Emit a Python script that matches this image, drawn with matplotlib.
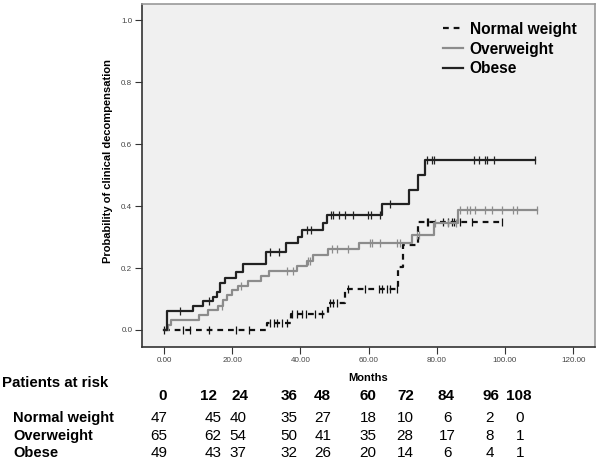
import numpy as np
import matplotlib
matplotlib.use("Agg")
import matplotlib.pyplot as plt

plt.rcParams['font.family'] = ['Liberation Sans', 'DejaVu Sans']

# Kaplan-Meier steps (months, cumulative probability)
normal_t = [0, 30.1, 37.2, 48.0, 53.1, 68.7, 70.0, 74.6]
normal_p = [0, 0.024, 0.052, 0.086, 0.131, 0.205, 0.275, 0.348]
normal_end = 99.0
normal_cens = [0, 5.5, 7.6, 13.3, 21.1, 25.0, 31.1, 32.3, 33.0, 34.5, 36.0, 37.6,
               38.9, 40.4, 41.5, 44.3, 46.2, 48.7, 49.6, 50.8, 54.0, 58.9, 63.1,
               63.8, 65.3, 66.3, 68.2, 77.0, 77.5, 81.9, 83.4, 84.4, 85.0, 86.8,
               90.2, 99.0]

over_t = [0, 1.3, 2.1, 10.4, 13.0, 15.9, 17.4, 18.4, 19.8, 21.8, 24.7, 28.4, 30.8,
          38.9, 41.8, 43.8, 48.2, 57.2, 72.6, 79.2, 86.1]
over_p = [0, 0.016, 0.032, 0.048, 0.065, 0.078, 0.097, 0.113, 0.129, 0.142, 0.159,
          0.174, 0.192, 0.207, 0.224, 0.242, 0.26, 0.282, 0.307, 0.345, 0.386]
over_end = 109.3
over_cens = [16.9, 22.5, 36.0, 37.9, 42.3, 42.8, 49.4, 50.7, 54.0, 60.4, 60.9, 63.3,
             68.2, 69.2, 74.1, 74.9, 79.5, 83.4, 85.6, 86.8, 88.8, 89.7, 91.2, 94.1,
             96.1, 99.0, 102.4, 103.4, 109.3]

obese_t = [0, 1.0, 8.6, 11.3, 14.5, 15.6, 16.4, 17.9, 21.1, 23.3, 29.8, 35.7, 39.4,
           40.5, 46.7, 47.7, 64.0, 71.9, 74.6, 76.5]
obese_p = [0, 0.062, 0.078, 0.094, 0.108, 0.124, 0.151, 0.167, 0.188, 0.212, 0.253,
           0.28, 0.30, 0.323, 0.345, 0.372, 0.406, 0.452, 0.50, 0.549]
obese_end = 108.8
obese_cens = [4.6, 13.2, 31.2, 33.7, 42.0, 43.0, 49.0, 49.6, 51.4, 53.1, 55.3, 59.9,
              60.6, 63.3, 66.2, 77.0, 78.5, 79.2, 90.9, 92.5, 94.1, 94.8, 96.8, 108.8]

groups = ['Normal weight', 'Overweight', 'Obese']
risk_times = [0, 12, 24, 36, 48, 60, 72, 84, 96, 108]
risk_normal = [47, 45, 40, 35, 27, 18, 10, 6, 2, 0]
risk_over = [65, 62, 54, 50, 41, 35, 28, 17, 8, 1]
risk_obese = [49, 43, 37, 32, 26, 20, 14, 6, 4, 1]

W, H = 600, 462
fig = plt.figure(figsize=(6, 4.62), dpi=100)
ax = fig.add_axes([142 / W, 1 - 347 / H, 453 / W, 343 / H])
ax.set_facecolor('#f0f0f0')


def km(t, p, end, cens, color, ls, label):
    x = np.append(t, end)
    y = np.append(p, p[-1])
    ax.step(x, y, where='post', color=color, lw=1.6, linestyle=ls, label=label)
    idx = np.searchsorted(t, cens, side='right') - 1
    ax.plot(cens, np.array(p)[idx], linestyle='none', marker='|', ms=6,
            mew=0.9, color=color)


km(normal_t, normal_p, normal_end, normal_cens, '#111111', (0, (2.6, 2.2)), groups[0])
km(over_t, over_p, over_end, over_cens, '#8c8c8c', '-', groups[1])
km(obese_t, obese_p, obese_end, obese_cens, '#222222', '-', groups[2])

ax.set_xlim(-6.45, 126.4)
ax.set_ylim(-0.055, 1.053)
ax.set_xticks(np.arange(0, 121, 20))
ax.set_xticklabels(['%.2f' % v for v in np.arange(0, 121, 20)])
ax.set_yticks(np.arange(0, 1.01, 0.2))
ax.set_yticklabels(['%.1f' % v for v in np.arange(0, 1.01, 0.2)])
ax.tick_params(labelsize=5.8, labelcolor='#444444', length=5, width=0.8,
               color='#333333', pad=2)
for s in ['left', 'bottom']:
    ax.spines[s].set_color('#333333')
    ax.spines[s].set_linewidth(1.2)
for s in ['top', 'right']:
    ax.spines[s].set_color('#999999')
    ax.spines[s].set_linewidth(1.2)

ax.set_ylabel('Probability of clinical decompensation', fontsize=8, fontweight='bold')
ax.yaxis.set_label_coords(-0.064, 0.542)
ax.set_xlabel('Months', fontsize=8, fontweight='bold', va='center')
ax.xaxis.set_label_coords(0.5, -0.09)

ax.legend(loc='upper left', bbox_to_anchor=(0.665, 0.948), frameon=False,
          prop={'size': 11.2, 'weight': 'bold'}, handlelength=1.25,
          handletextpad=0.45, labelspacing=0.3, borderpad=0, borderaxespad=0)

# patients at risk table
def fx(x):
    return x / W


def fy(y):
    return 1 - y / H


fig.text(fx(2), fy(383), 'Patients at risk', fontsize=10.8, fontweight='bold',
         ha='left', va='center')
head_x = [162.7, 208.4, 240.3, 289, 322.4, 368, 406, 445.6, 490.5, 519]
for x, t in zip(head_x, risk_times):
    fig.text(fx(x), fy(396), str(t), fontsize=11, fontweight='bold',
             ha='center', va='center')
col_x = [159, 213, 238, 289, 323, 368, 405, 447, 490, 520]
for yy, name, vals in zip([418, 436, 453], groups, [risk_normal, risk_over, risk_obese]):
    fig.text(fx(13), fy(yy), name, fontsize=10.5, fontweight='bold',
             ha='left', va='center')
    for x, v in zip(col_x, vals):
        fig.text(fx(x), fy(yy), str(v), fontsize=11, ha='center', va='center')

fig.savefig('out.png', dpi=100)
